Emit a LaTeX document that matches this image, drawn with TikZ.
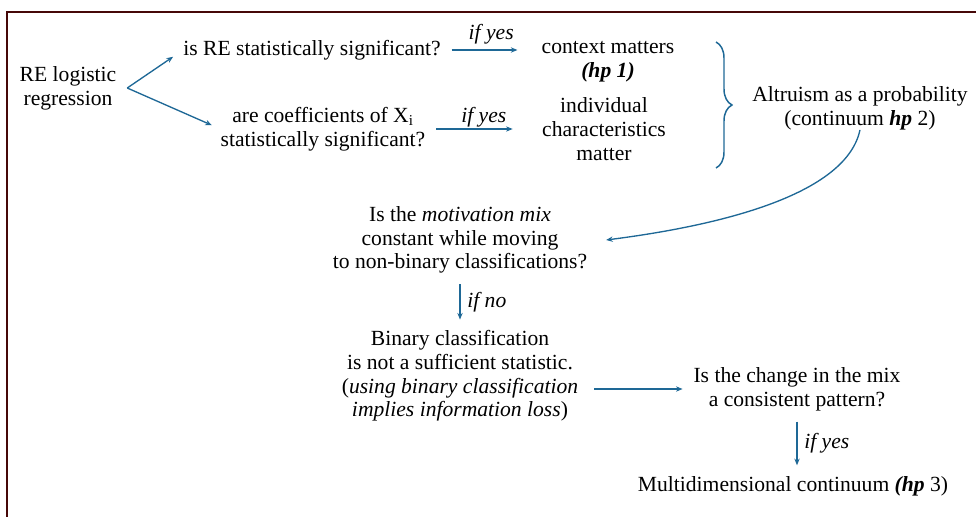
\documentclass[tikz,border=0pt]{standalone}
\usepackage{fontspec}
\setmainfont{Liberation Serif}
\usetikzlibrary{positioning, arrows.meta, decorations.pathreplacing}
\definecolor{flowblue}{RGB}{30,104,150}
\definecolor{framered}{RGB}{70,8,8}

\begin{document}
\begin{tikzpicture}[x=0.75pt,y=-0.75pt,>={Stealth[length=5pt,width=4pt]},
    flow/.style={->,draw=flowblue,line width=1pt},
    txt/.style={align=center,inner sep=0pt,font=\fontsize{16.2}{17.8}\selectfont},
    cond/.style={font=\fontsize{16.2}{17.8}\selectfont\itshape,inner sep=1pt}]
    \useasboundingbox (0,0) rectangle (976,517);
    % frame
    \draw[framered,line width=1.5pt] (7,530) -- (7,12) -- (990,12);

    % first step: the regression and its two tests
    \node[txt] (reg) at (68,88) {RE logistic\\regression};
    \node[txt] (q1) at (312,50) {is RE statistically significant?};
    \node[txt] (q2) at (323,129) {are coefficients of X\textsubscript{i}\\statistically significant?};
    \node[txt] (ctx) at (608,62) {context matters\\\textbf{\textit{(hp 1)}}};
    \node[txt] (ind) at (604,129) {individual\\characteristics\\matter};
    \node[txt] (alt) at (860,108) {Altruism as a probability\\(continuum \textbf{\textit{hp}} 2)};

    % second step: motivation mix
    \node[txt] (mot) at (460,240) {Is the \textit{motivation mix}\\constant while moving\\to non-binary classifications?};
    \node[txt] (bin) at (460,376) {Binary classification\\is not a sufficient statistic.\\(\textit{using binary classification}\\\textit{implies information loss})};
    \node[txt] (chg) at (797,389) {Is the change in the mix\\a consistent pattern?};
    \node[txt] (multi) at (793,486) {Multidimensional continuum \textbf{\textit{(hp}} 3)};

    \draw[decorate,decoration={brace,amplitude=12pt},flowblue,line width=1.1pt]
        (716,42) -- (716,168);

    \coordinate (fork) at ([xshift=8pt]reg.east);
    \draw[flow,shorten >=9pt] (fork) -- (q1.west);
    \draw[flow,shorten >=7pt] (fork) -- (q2.west);
    \draw[flow,shorten <=8pt,shorten >=18pt] (q1.east) -- node[cond,above=3pt] {if yes} (q1.east -| ctx.west);
    \draw[flow,shorten <=8pt,shorten >=22pt] (q2.east |- ind) -- node[cond,above] {if yes} (ind.west);
    \draw[flow,shorten <=8pt,shorten >=8pt] (mot) -- node[cond,right=4pt] {if no} (bin);
    \draw[flow,shorten <=12pt,shorten >=8pt] (bin.east |- chg.west) -- (chg.west);
    \draw[flow,shorten <=8pt,shorten >=8pt] (chg.south) -- node[cond,right=4pt] {if yes} (chg.south |- multi.north);
    \draw[flow] (alt.south) .. controls (845,200) and (700,228) .. ([xshift=14pt]mot.east);
\end{tikzpicture}
\end{document}
